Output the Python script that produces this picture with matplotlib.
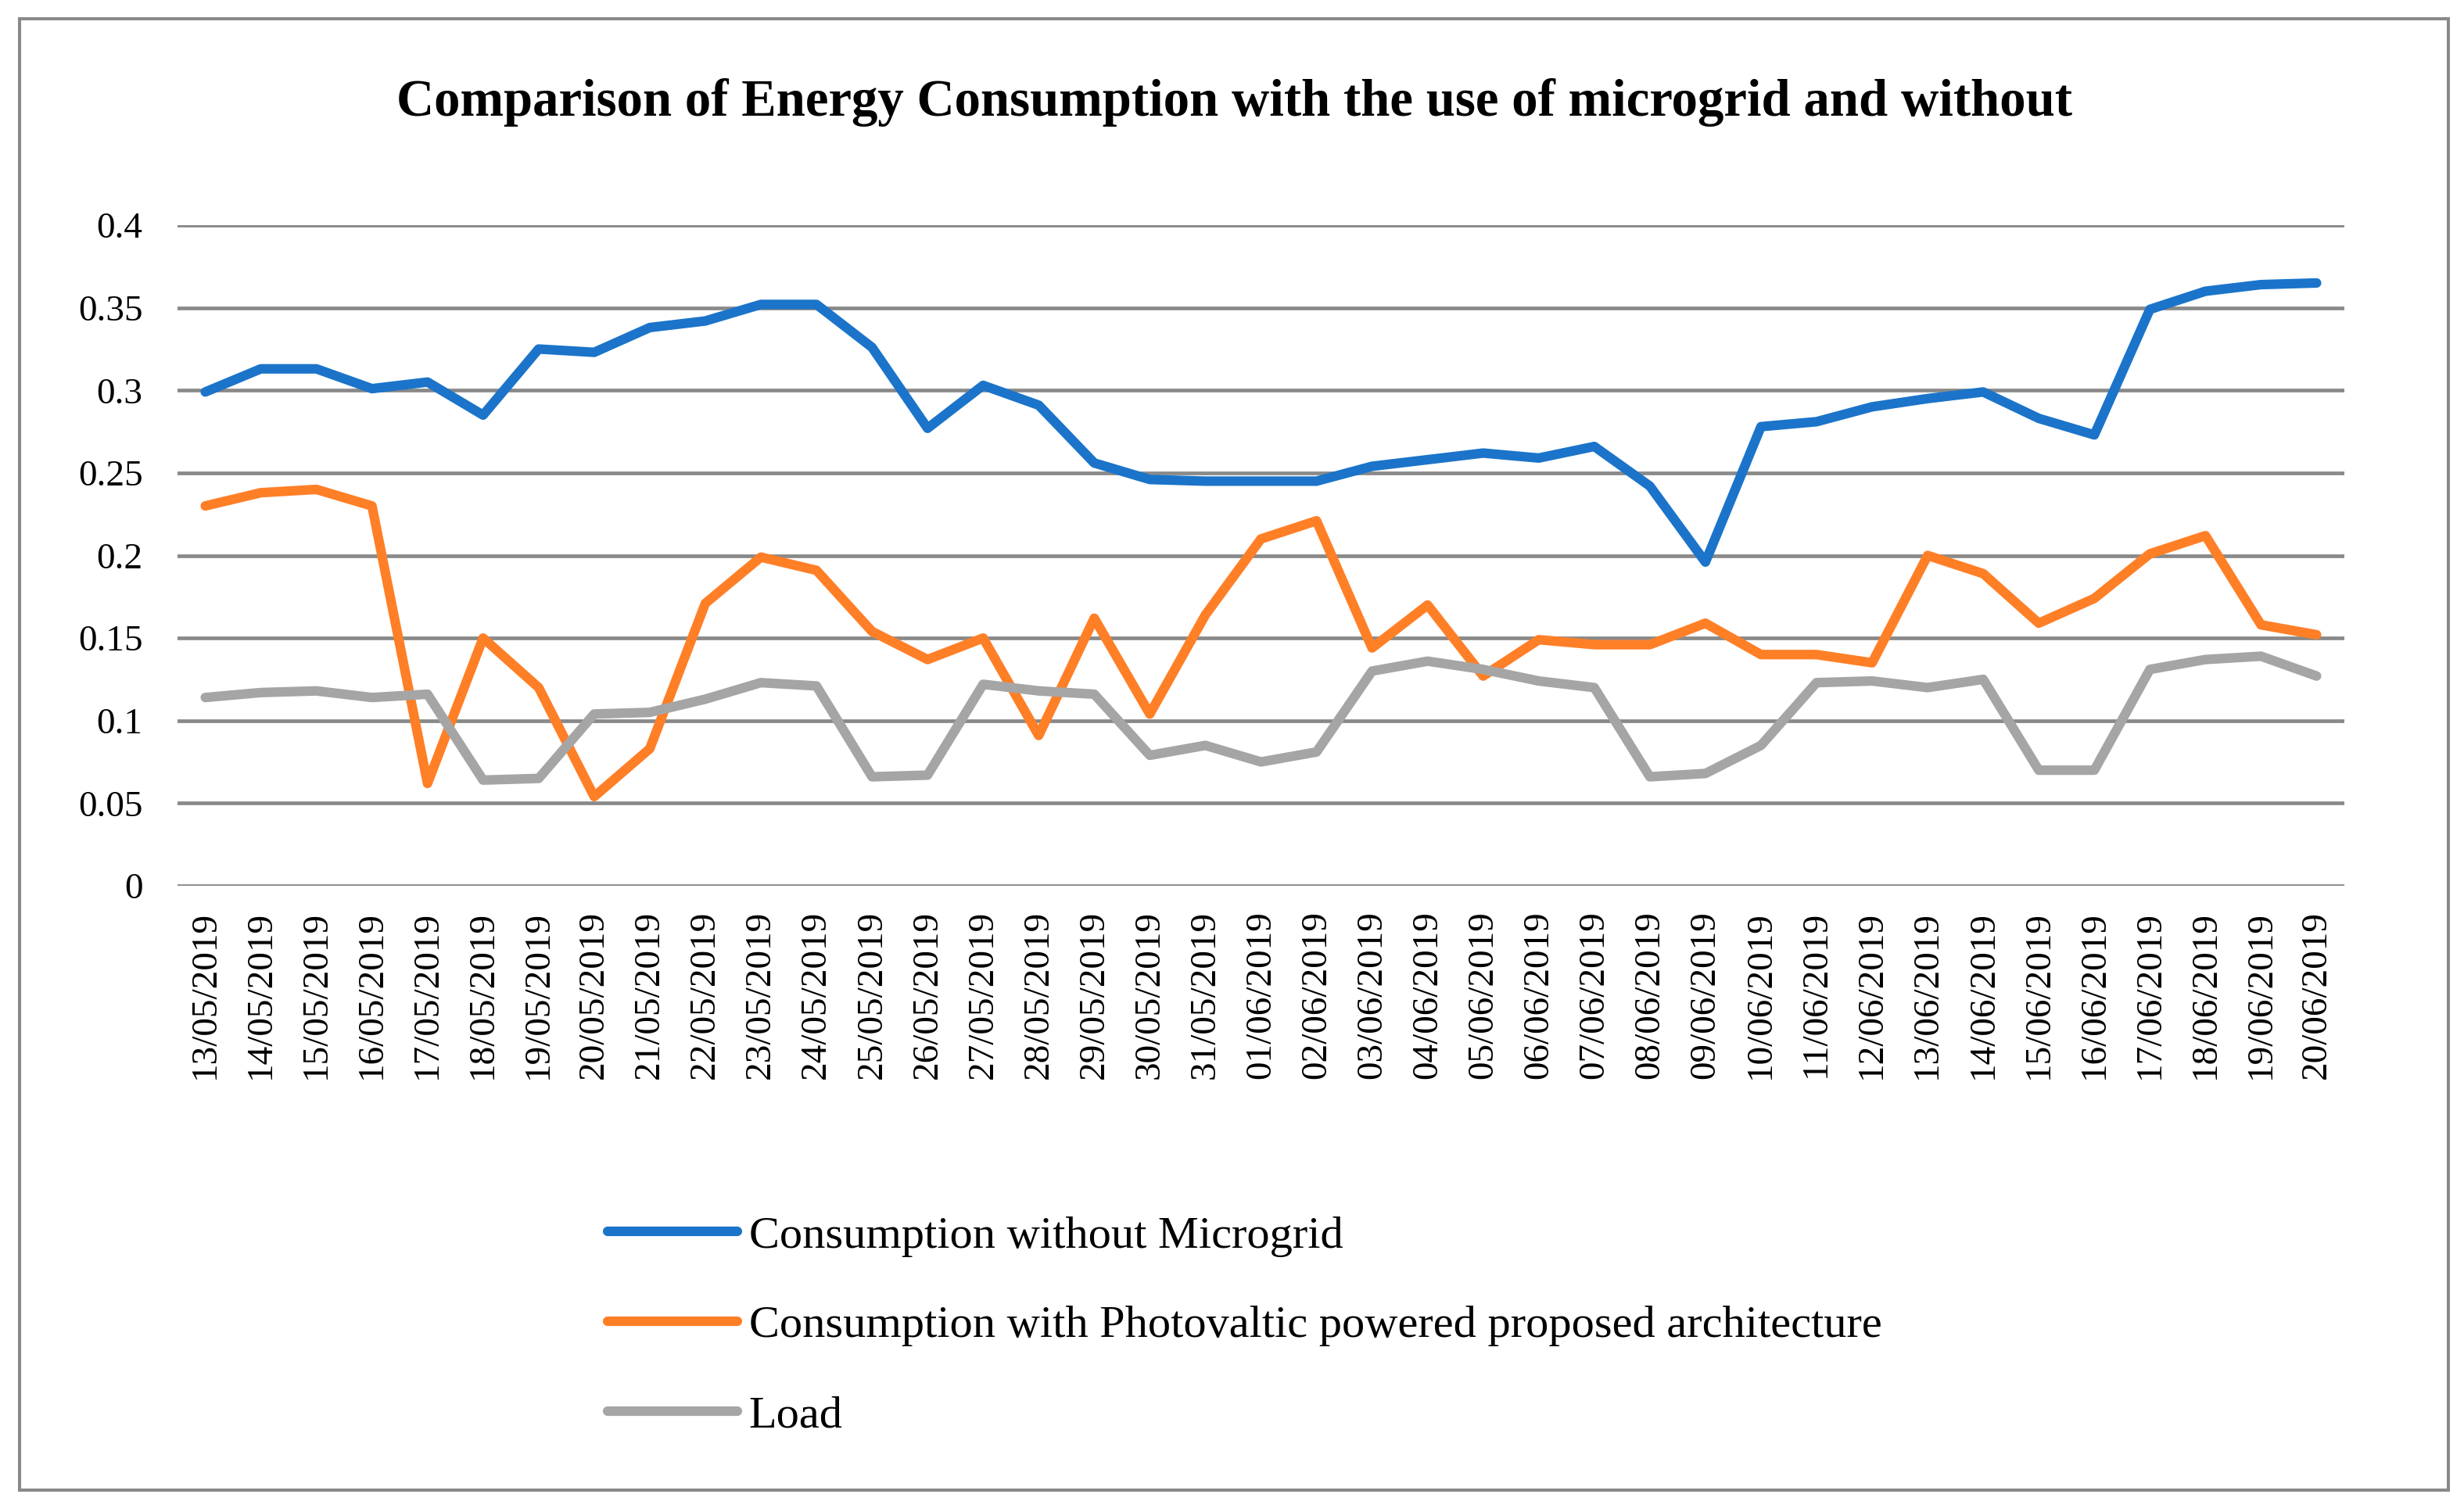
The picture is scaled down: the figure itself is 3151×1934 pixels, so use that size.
import matplotlib
matplotlib.use("Agg")
import matplotlib.pyplot as plt
from matplotlib.patches import Rectangle

# data
dates = ["13/05/2019", "14/05/2019", "15/05/2019", "16/05/2019", "17/05/2019",
         "18/05/2019", "19/05/2019", "20/05/2019", "21/05/2019", "22/05/2019",
         "23/05/2019", "24/05/2019", "25/05/2019", "26/05/2019", "27/05/2019",
         "28/05/2019", "29/05/2019", "30/05/2019", "31/05/2019", "01/06/2019",
         "02/06/2019", "03/06/2019", "04/06/2019", "05/06/2019", "06/06/2019",
         "07/06/2019", "08/06/2019", "09/06/2019", "10/06/2019", "11/06/2019",
         "12/06/2019", "13/06/2019", "14/06/2019", "15/06/2019", "16/06/2019",
         "17/06/2019", "18/06/2019", "19/06/2019", "20/06/2019"]

without_microgrid = [0.299, 0.313, 0.313, 0.301, 0.305, 0.285, 0.325, 0.323, 0.338, 0.342,
                     0.352, 0.352, 0.326, 0.277, 0.303, 0.291, 0.256, 0.246, 0.245, 0.245,
                     0.245, 0.254, 0.258, 0.262, 0.259, 0.266, 0.242, 0.196, 0.278, 0.281,
                     0.290, 0.295, 0.299, 0.283, 0.273, 0.349, 0.360, 0.364, 0.365]

with_pv = [0.230, 0.238, 0.240, 0.230, 0.062, 0.150, 0.120, 0.054, 0.083, 0.171,
           0.199, 0.191, 0.154, 0.137, 0.150, 0.091, 0.162, 0.104, 0.164, 0.210,
           0.221, 0.144, 0.170, 0.127, 0.149, 0.146, 0.146, 0.159, 0.140, 0.140,
           0.135, 0.200, 0.189, 0.159, 0.174, 0.201, 0.212, 0.158, 0.152]

load = [0.114, 0.117, 0.118, 0.114, 0.116, 0.064, 0.065, 0.104, 0.105, 0.113,
        0.123, 0.121, 0.066, 0.067, 0.122, 0.118, 0.116, 0.079, 0.085, 0.075,
        0.081, 0.130, 0.136, 0.131, 0.124, 0.120, 0.066, 0.068, 0.085, 0.123,
        0.124, 0.120, 0.125, 0.070, 0.070, 0.131, 0.137, 0.139, 0.127]

series_names = ["Consumption without Microgrid",
                "Consumption with Photovaltic powered proposed architecture",
                "Load"]
colors = ["#1B74C9", "#FF7F27", "#A5A5A5"]

W, H = 3151, 1934
plt.rcParams['font.family'] = ['Liberation Serif', 'DejaVu Serif']

fig = plt.figure(figsize=(W / 100, H / 100), dpi=100)
ax = fig.add_axes([227 / W, 1 - 1133 / H, (2998 - 227) / W, (1133 - 288) / H])

x = list(range(len(dates)))
for vals, name, col in zip([without_microgrid, with_pv, load], series_names, colors):
    ax.plot(x, vals, color=col, lw=8.8, label=name,
            solid_capstyle='round', solid_joinstyle='round', zorder=3)

ax.set_xlim(-0.5, len(dates) - 0.5)
ax.set_ylim(0, 0.4)
ax.set_yticks([0, 0.05, 0.1, 0.15, 0.2, 0.25, 0.3, 0.35, 0.4])
ax.set_yticklabels(["0", "0.05", "0.1", "0.15", "0.2", "0.25", "0.3", "0.35", "0.4"])
ax.set_xticks(x)
ax.set_xticklabels(dates, rotation=90)
ax.tick_params(axis='y', length=0, pad=32, labelsize=34)
ax.tick_params(axis='x', length=0, pad=23, labelsize=34)
ax.grid(axis='y', color='#898989', lw=3.4, zorder=1)
ax.set_axisbelow(True)
for sp in ax.spines.values():
    sp.set_visible(False)

fig.text(1578 / W, 1 - 148 / H,
         "Comparison of Energy Consumption with the use of microgrid and without",
         ha='center', va='baseline', fontsize=48.1, fontweight='bold')

handles, labels = ax.get_legend_handles_labels()
fig.legend(handles, labels, loc='upper left',
           bbox_to_anchor=(777 / W, 1 - 1555 / H),
           frameon=False, fontsize=42, handlelength=2.85, handletextpad=0.25,
           labelspacing=1.06, borderpad=0, borderaxespad=0)

fig.patches.append(Rectangle((25 / W, 1 - 1906 / H), 3106 / W, 1882 / H,
                             transform=fig.transFigure, fill=False,
                             edgecolor='#898989', lw=2.9))

fig.savefig("out.png", dpi=100)
